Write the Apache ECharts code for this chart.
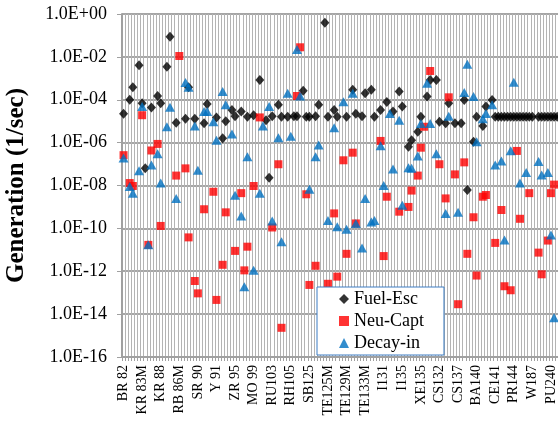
<!DOCTYPE html>
<html>
<head>
<meta charset="utf-8">
<script src="https://cdn.jsdelivr.net/npm/echarts@6.0.0/dist/echarts.min.js"></script>
<style>
  html, body { margin: 0; padding: 0; background: #fff; overflow: hidden; }
  #chart { width: 568px; height: 423px; }
</style>
</head>
<body>
<div id="chart"></div>
<script>
  // labelled nuclides, one every 6 categories
  const tickLabels = ['BR 82', 'KR 83M', 'KR 88', 'RB 86M', 'SR 90', 'Y 91', 'ZR 95', 'MO 99',
    'RU103', 'RH105', 'SB125', 'TE125M', 'TE129M', 'TE133M', 'I131', 'I135', 'XE135',
    'CS132', 'CS137', 'BA140', 'CE141', 'PR144', 'W187', 'PU240'];
  const categoryCount = 144;
  const labelStep = 6;

  // [category index, generation 1/sec]
  const fuelEsc = [[0, 2.2e-5], [2, 1.0e-4], [3, 3.8e-4], [5, 4.1e-3], [6, 6.8e-5], [7, 6.3e-8],
    [9, 4.3e-5], [11, 1.5e-4], [12, 6.8e-5], [14, 3.5e-3], [15, 8.7e-2], [17, 8.5e-6],
    [20, 1.3e-5], [21, 3.8e-4], [23, 1.3e-5], [26, 8.0e-6], [27, 6.3e-5], [30, 1.5e-5],
    [32, 1.6e-6], [33, 1.0e-5], [35, 3.3e-5], [36, 1.7e-5], [38, 2.8e-5], [40, 1.6e-5],
    [42, 1.9e-5], [44, 8.3e-4], [46, 1.1e-5], [47, 2.3e-8], [48, 1.7e-5], [50, 5.8e-5],
    [51, 1.6e-5], [53, 1.6e-5], [55, 1.7e-5], [56, 1.7e-5], [58, 2.6e-4], [59, 1.6e-5],
    [60, 1.6e-5], [62, 1.7e-5], [63, 5.8e-5], [65, 3.9e-1], [66, 1.6e-5], [68, 3.3e-5],
    [69, 1.6e-5], [72, 1.6e-5], [74, 2.9e-4], [75, 2.2e-5], [77, 1.7e-5], [78, 2.0e-4],
    [80, 2.9e-4], [81, 1.6e-5], [83, 3.3e-5], [85, 7.9e-5], [87, 2.8e-5], [89, 2.4e-4],
    [90, 4.8e-5], [92, 6.5e-7], [93, 1.3e-6], [95, 3.2e-6], [96, 1.6e-5], [98, 1.4e-4],
    [99, 8.3e-4], [101, 8.3e-4], [102, 9.5e-6], [104, 8.0e-6], [105, 6.8e-5], [107, 8.0e-6],
    [109, 8.0e-6], [110, 9.8e-5], [111, 6.2e-9], [113, 1.1e-6], [114, 1.6e-5], [116, 6.0e-6],
    [117, 4.8e-5], [119, 9.8e-5], [120, 1.6e-5], [121, 1.6e-5], [122, 1.6e-5], [123, 1.6e-5],
    [124, 1.6e-5], [125, 1.6e-5], [126, 1.6e-5], [127, 1.6e-5], [128, 1.6e-5], [129, 1.6e-5],
    [130, 1.6e-5], [131, 1.6e-5], [132, 1.6e-5], [134, 1.6e-5], [135, 1.6e-5], [136, 1.6e-5],
    [137, 1.6e-5], [138, 1.6e-5], [139, 1.6e-5], [140, 1.6e-5], [141, 1.6e-5], [142, 1.6e-5],
    [143, 1.6e-5]];

  const neuCapt = [[0, 2.6e-7], [2, 1.3e-8], [3, 9.5e-9], [6, 1.9e-5], [8, 1.7e-11], [9, 4.3e-7],
    [11, 8.7e-7], [12, 1.3e-10], [17, 2.9e-8], [18, 1.1e-2], [20, 6.3e-8], [21, 3.8e-11],
    [23, 3.5e-13], [24, 9.3e-14], [26, 7.8e-10], [29, 5.1e-9], [30, 4.6e-14], [32, 2.0e-12],
    [33, 5.6e-10], [36, 8.9e-12], [38, 4.4e-9], [39, 1.1e-12], [40, 1.4e-11], [42, 9.5e-9],
    [44, 1.5e-5], [48, 1.1e-10], [50, 9.8e-8], [51, 2.3e-15], [56, 1.5e-4], [57, 2.8e-2],
    [59, 3.9e-9], [60, 2.3e-13], [62, 1.8e-12], [66, 2.6e-13], [68, 5.0e-10], [69, 5.6e-13],
    [71, 1.5e-7], [72, 6.5e-12], [74, 3.4e-7], [75, 1.7e-10], [83, 1.2e-6], [84, 5.1e-12],
    [85, 3.0e-9], [89, 6.0e-10], [92, 1.0e-9], [93, 5.8e-9], [95, 2.9e-8], [96, 5.8e-7],
    [97, 5.5e-6], [99, 2.2e-3], [102, 9.8e-8], [104, 2.5e-9], [105, 1.3e-4], [107, 3.3e-8],
    [108, 2.9e-14], [110, 1.2e-7], [111, 6.5e-12], [113, 3.3e-10], [114, 6.3e-13], [116, 3.0e-9],
    [117, 3.6e-9], [120, 2.1e-11], [122, 7.2e-10], [123, 2.0e-13], [125, 1.3e-13], [127, 4.1e-7],
    [128, 2.8e-10], [131, 4.4e-9], [134, 7.4e-12], [135, 7.2e-13], [137, 2.7e-11], [138, 4.4e-9],
    [139, 1.1e-8]];

  const decayIn = [[0, 1.9e-7], [2, 8.9e-9], [3, 4.4e-9], [5, 4.9e-8], [6, 4.8e-5], [8, 1.7e-11],
    [9, 9.1e-8], [11, 3.0e-7], [12, 1.3e-8], [14, 5.5e-6], [15, 4.5e-5], [17, 2.5e-9],
    [20, 6.3e-4], [21, 3.8e-4], [23, 6.0e-6], [24, 5.2e-8], [26, 2.8e-5], [27, 2.8e-5],
    [29, 9.5e-6], [30, 1.3e-6], [32, 2.4e-4], [33, 5.8e-5], [35, 2.5e-6], [36, 3.5e-9],
    [38, 3.8e-10], [39, 1.9e-13], [40, 2.2e-7], [42, 1.1e-12], [44, 4.4e-9], [45, 6.0e-6],
    [47, 4.8e-5], [48, 2.2e-10], [50, 1.7e-6], [51, 2.4e-11], [53, 2.0e-4], [54, 2.0e-6],
    [56, 2.2e-2], [57, 1.5e-4], [60, 6.6e-9], [62, 2.2e-7], [63, 7.8e-7], [66, 2.3e-10],
    [68, 5.0e-6], [69, 1.2e-10], [71, 8.1e-5], [72, 9.1e-11], [74, 2.0e-4], [75, 1.7e-10],
    [77, 1.2e-11], [78, 2.5e-9], [80, 2.0e-10], [81, 2.3e-10], [83, 7.2e-7], [84, 1.0e-8],
    [86, 2.3e-5], [87, 5.9e-8], [89, 1.1e-5], [90, 1.2e-9], [92, 6.8e-8], [93, 6.3e-8],
    [95, 2.4e-7], [96, 7.9e-6], [98, 5.9e-4], [99, 7.9e-6], [101, 3.0e-7], [104, 5.0e-10],
    [105, 1.7e-5], [108, 5.6e-10], [110, 2.2e-4], [111, 4.5e-3], [113, 1.4e-4], [114, 1.1e-6],
    [116, 1.3e-5], [117, 2.3e-5], [119, 5.8e-5], [120, 9.1e-8], [122, 1.4e-7], [123, 2.9e-11],
    [125, 4.2e-7], [126, 6.5e-4], [128, 1.3e-8], [130, 4.0e-8], [134, 1.3e-7], [135, 3.1e-8],
    [137, 4.0e-8], [138, 4.9e-11], [139, 6.8e-15]];

  let categories = [];
  for (let i = 0; i < categoryCount; i++) {
    categories.push(i % labelStep === 0 ? tickLabels[i / labelStep] : '');
  }

  const font = 'Liberation Serif';

  function sciLabel (v) {
    let e = Math.round(Math.log10(v));
    let a = Math.abs(e);
    return '1.0E' + (e < 0 ? '-' : '+') + (a < 10 ? '0' + a : a);
  }

  // axes 0 only carry the gridlines, axes 1 carry line, ticks and labels
  let myChart = echarts.init(document.getElementById('chart'));
  myChart.setOption({
    animation: false,
    grid: {
      left: 122,
      right: 0,
      top: 14,
      bottom: 66,
      outerBoundsMode: 'none'
    },
    legend: {
      orient: 'vertical',
      left: 317,
      top: 287,
      padding: [1, 20, 1, 22],
      itemGap: 0,
      itemWidth: 10,
      itemHeight: 10,
      backgroundColor: '#fff',
      borderColor: '#3c7dc4',
      borderWidth: 1,
      borderRadius: 0,
      textStyle: {
        fontFamily: font,
        fontSize: 18,
        lineHeight: 22,
        color: '#000'
      },
      data: ['Fuel-Esc', 'Neu-Capt', 'Decay-in']
    },
    xAxis: [{
      type: 'category',
      data: categories,
      axisLine: { show: false },
      axisTick: { show: false },
      axisLabel: { show: false },
      splitLine: {
        show: true,
        interval: 0,
        lineStyle: { color: '#b4b4b4', width: 1 }
      }
    }, {
      type: 'category',
      position: 'bottom',
      data: categories,
      axisLine: {
        show: true,
        lineStyle: { color: '#a0a0a0', width: 2 }
      },
      axisTick: {
        show: true,
        interval: 0,
        length: 4,
        lineStyle: { color: '#a0a0a0', width: 1 }
      },
      axisLabel: {
        interval: 0,
        rotate: 90,
        margin: 8,
        fontFamily: font,
        fontSize: 14,
        color: '#000'
      },
      splitLine: { show: false }
    }],
    yAxis: [{
      type: 'log',
      logBase: 100,
      min: 1e-16,
      max: 1,
      axisLine: { show: false },
      axisTick: { show: false },
      axisLabel: { show: false },
      splitLine: {
        show: true,
        lineStyle: { color: '#a6a6a6', width: 2 }
      }
    }, {
      type: 'log',
      logBase: 100,
      min: 1e-16,
      max: 1,
      position: 'left',
      name: 'Generation (1/sec)',
      nameLocation: 'middle',
      nameRotate: 90,
      nameGap: 93,
      nameTextStyle: {
        fontFamily: font,
        fontSize: 25,
        fontWeight: 'bold',
        color: '#000'
      },
      axisLine: {
        show: true,
        lineStyle: { color: '#a0a0a0', width: 2 }
      },
      axisTick: {
        show: true,
        length: 5,
        lineStyle: { color: '#a0a0a0', width: 1 }
      },
      axisLabel: {
        margin: 15,
        fontFamily: font,
        fontSize: 18,
        color: '#000',
        formatter: sciLabel
      },
      splitLine: { show: false }
    }],
    series: [{
      name: 'Fuel-Esc',
      type: 'scatter',
      xAxisIndex: 1,
      yAxisIndex: 1,
      symbol: 'diamond',
      symbolSize: [9, 10],
      itemStyle: { color: '#000' },
      data: fuelEsc
    }, {
      name: 'Neu-Capt',
      type: 'scatter',
      xAxisIndex: 1,
      yAxisIndex: 1,
      symbol: 'rect',
      symbolSize: 8,
      itemStyle: { color: '#ff0000' },
      data: neuCapt
    }, {
      name: 'Decay-in',
      type: 'scatter',
      xAxisIndex: 1,
      yAxisIndex: 1,
      symbol: 'triangle',
      symbolSize: [10, 9],
      itemStyle: { color: '#0070c0' },
      data: decayIn
    }]
  });

  // redraw once more after load so the gridlines are painted
  setTimeout(function () {
    myChart.resize();
  }, 300);
</script>
</body>
</html>
